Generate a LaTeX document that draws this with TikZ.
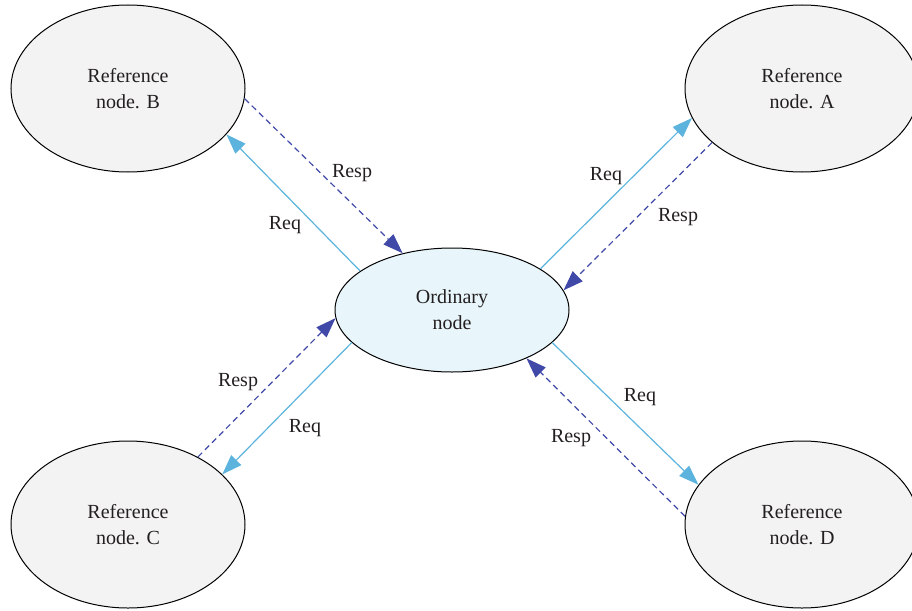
\documentclass[tikz,border=0pt]{standalone}
\usepackage{fontspec}
\setmainfont{Liberation Serif}
\usetikzlibrary{shapes.geometric,arrows.meta}
\definecolor{reqc}{RGB}{92,180,222}
\definecolor{respc}{RGB}{64,72,168}
\definecolor{ordfill}{RGB}{232,245,250}
\definecolor{reffill}{RGB}{243,243,243}
\definecolor{txt}{RGB}{35,31,32}
\tikzset{
  refnode/.style={ellipse,draw=black,line width=1pt,fill=reffill,minimum width=234pt,minimum height=167pt,inner sep=0pt,align=center,text=txt,font=\fontsize{20}{26}\selectfont},
  ordnode/.style={ellipse,draw=black,line width=1pt,fill=ordfill,minimum width=234pt,minimum height=124pt,inner sep=0pt,align=center,text=txt,font=\fontsize{20}{26}\selectfont},
  reqarrow/.style={draw=reqc,line width=1.2pt,-{Triangle[length=20pt,width=14pt,fill=reqc]}},
  resparrow/.style={draw=respc,line width=1.2pt,dash pattern=on 6pt off 4pt,-{Triangle[length=20pt,width=14pt,fill=respc]}},
  lbl/.style={text=txt,font=\fontsize{20}{24}\selectfont,inner sep=0pt}
}
\begin{document}
\begin{tikzpicture}[x=1pt,y=-1pt]
\useasboundingbox (0,0) rectangle (912,610);
\node[ordnode] (O) at (452,310) {Ordinary\\node};
\node[refnode] (B) at (128,88.5) {Reference\\node. B};
\node[refnode] (A) at (802,88.5) {Reference\\node. A};
\node[refnode] (C) at (128,524.5) {Reference\\node. C};
\node[refnode] (D) at (802,524.5) {Reference\\node. D};
% B
\draw[resparrow] (B.-5.5) -- (O.131.8);
\draw[reqarrow] (O.157.1) -- (B.-25.6);
% A
\draw[reqarrow] (O.25) -- (A.195);
\draw[resparrow] (A.211) -- (O.10);
% C
\draw[resparrow] (C.44.4) -- (O.184.4);
\draw[reqarrow] (O.198.4) -- (C.28.2);
% D
\draw[reqarrow] (O.-18.3) -- (D.159.9);
\draw[resparrow] (D.176.8) -- (O.-33.9);
% labels
\node[lbl] (l1) at (352,173) {Resp};
\node[lbl] (l2) at (285,225) {Req};
\node[lbl] (l3) at (606,176) {Req};
\node[lbl] (l4) at (678,217) {Resp};
\node[lbl] (l5) at (238,382) {Resp};
\node[lbl] (l6) at (305,428) {Req};
\node[lbl] (l7) at (640,397) {Req};
\node[lbl] (l8) at (571,438) {Resp};
\end{tikzpicture}
\end{document}
